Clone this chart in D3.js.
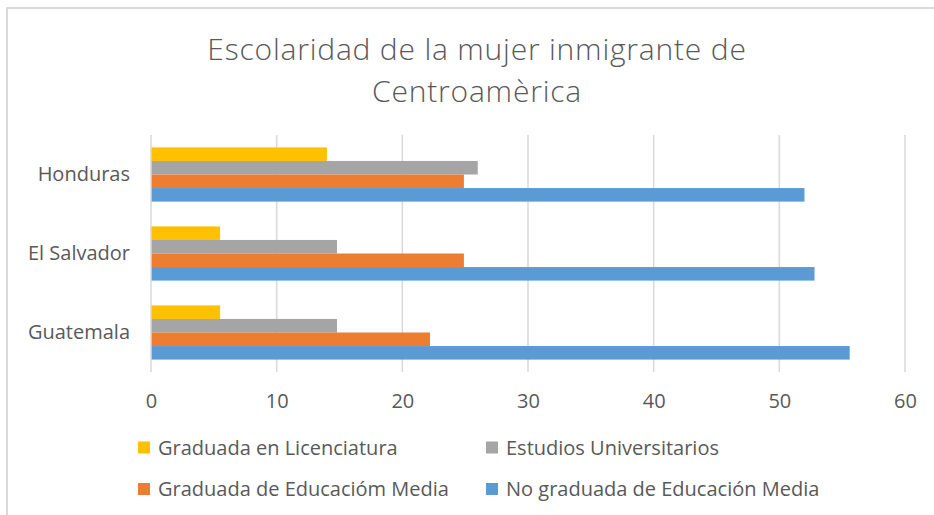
<!DOCTYPE html>
<html>
<head>
<meta charset="utf-8">
<script src="https://cdn.jsdelivr.net/npm/d3@7"></script>
<style>
  html, body { margin: 0; padding: 0; background: #fff; }
  svg { display: block; }
  text { font-family: "Open Sans", sans-serif; fill: #595959; }
</style>
</head>
<body>
<svg id="chart" width="934" height="515"></svg>
<script>
const titleLines = ["Escolaridad de la mujer inmigrante de", "Centroamèrica"];
const categories = ["Honduras", "El Salvador", "Guatemala"];
const seriesNames = ["Graduada en Licenciatura", "Estudios Universitarios", "Graduada de Educacióm Media", "No graduada de Educación Media"];
const seriesColors = ["#FFC000", "#A5A5A5", "#ED7D31", "#5B9BD5"];
const licenciatura = [14, 5.5, 5.5];
const universitarios = [26, 14.8, 14.8];
const educMedia = [24.9, 24.9, 22.2];
const noGraduada = [52, 52.8, 55.6];
const tickValues = [0, 10, 20, 30, 40, 50, 60];

const seriesValues = [licenciatura, universitarios, educMedia, noGraduada];

const svg = d3.select("#chart");

// frame
svg.append("rect").attr("x", 7).attr("y", 8).attr("width", 940).attr("height", 520)
  .attr("fill", "none").attr("stroke", "#D9D9D9").attr("stroke-width", 2);

// title
svg.append("g").selectAll("text").data(titleLines).join("text")
  .attr("x", 477).attr("y", (d, i) => 60 + i * 42)
  .attr("text-anchor", "middle")
  .style("font-size", "30px")
  .style("font-weight", "300")
  .style("letter-spacing", "0.8px")
  .text(d => d);

const x = d3.scaleLinear().domain([0, 60]).range([151, 905]);
const y = d3.scaleBand().domain(categories).range([135, 372]).paddingInner(0.314).paddingOuter(0.157);
const yInner = d3.scaleBand().domain(d3.range(seriesNames.length)).range([0, y.bandwidth()]);

// gridlines
svg.append("g").selectAll("line").data(tickValues.slice(1)).join("line")
  .attr("x1", d => x(d)).attr("x2", d => x(d))
  .attr("y1", 135).attr("y2", 372)
  .attr("stroke", "#D9D9D9").attr("stroke-width", 1.5);

// bars
const data = [];
categories.forEach((c, ci) => {
  seriesValues.forEach((vals, si) => {
    data.push({ cat: c, s: si, v: vals[ci] });
  });
});
svg.append("g").selectAll("rect").data(data).join("rect")
  .attr("x", x(0))
  .attr("y", d => y(d.cat) + yInner(d.s))
  .attr("width", d => x(d.v) - x(0))
  .attr("height", yInner.bandwidth())
  .attr("fill", d => seriesColors[d.s]);

// vertical axis line
svg.append("line").attr("x1", x(0)).attr("x2", x(0)).attr("y1", 135).attr("y2", 372)
  .attr("stroke", "#D9D9D9").attr("stroke-width", 1.5);

// x axis labels
const xAxis = d3.axisBottom(x).tickValues(tickValues).tickSize(0).tickPadding(0);
const gx = svg.append("g").attr("transform", "translate(0,401)").call(xAxis);
gx.select(".domain").remove();
gx.selectAll("text").style("font-size", "20px").style("font-family", "Open Sans, sans-serif")
  .attr("fill", "#595959").attr("y", 0).attr("dy", "0.35em");

// y axis labels
const yAxis = d3.axisLeft(y).tickSize(0).tickPadding(0);
const gy = svg.append("g").attr("transform", "translate(130,0)").call(yAxis);
gy.select(".domain").remove();
gy.selectAll("text").style("font-size", "20px").style("font-family", "Open Sans, sans-serif").attr("fill", "#595959");

// legend
const legendPos = [[138, 447.5], [486, 447.5], [138, 489], [486, 489]];
const lg = svg.append("g").selectAll("g").data(seriesNames).join("g")
  .attr("transform", (d, i) => `translate(${legendPos[i][0]},${legendPos[i][1]})`);
lg.append("rect").attr("x", 0).attr("y", -6).attr("width", 12).attr("height", 12)
  .attr("fill", (d, i) => seriesColors[i]);
lg.append("text").attr("x", 20).attr("y", 0).attr("dy", "0.35em")
  .style("font-size", "20px").text(d => d);
</script>
</body>
</html>
